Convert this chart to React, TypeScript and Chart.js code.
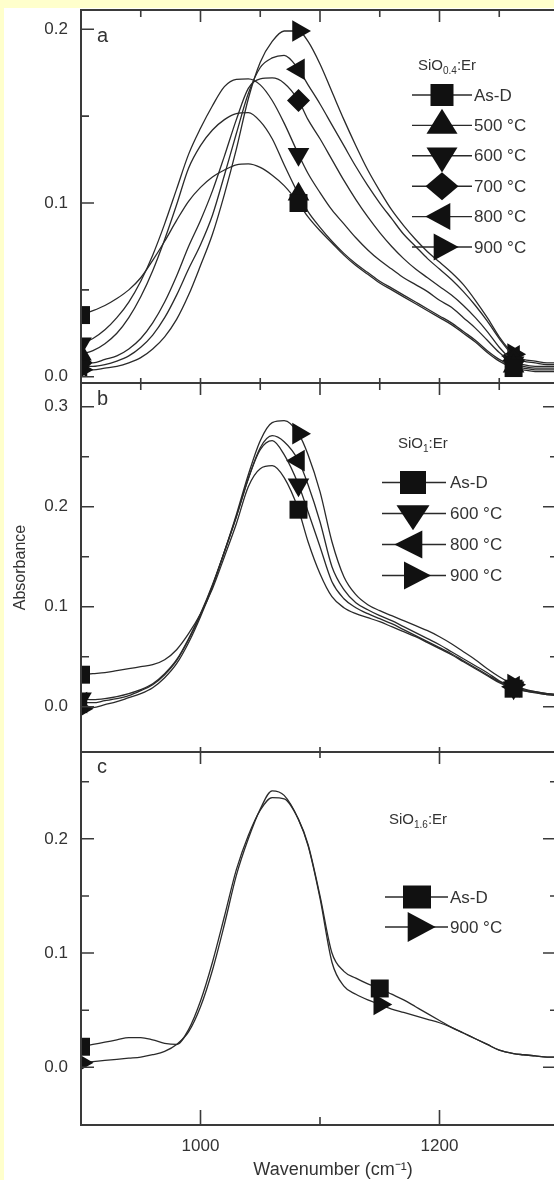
import React, { useEffect, useRef } from 'react';
import { Chart, registerables } from 'chart.js';

Chart.register(...registerables);

// ---------------- data ----------------
const WAVENUMBER = [900, 910, 920, 930, 940, 950, 960, 970, 980, 990, 1000, 1010, 1020, 1030, 1040, 1050, 1060, 1070, 1082, 1090, 1100, 1110, 1120, 1130, 1140, 1150, 1160, 1170, 1180, 1190, 1200, 1210, 1220, 1230, 1240, 1250, 1262, 1270, 1280, 1290, 1300];

// panel a : SiO0.4:Er
const A_AS_D = [0.0355, 0.038, 0.041, 0.045, 0.050, 0.057, 0.067, 0.078, 0.090, 0.101, 0.109, 0.115, 0.119, 0.122, 0.1225, 0.1205, 0.116, 0.110, 0.100, 0.092, 0.084, 0.077, 0.070, 0.064, 0.059, 0.054, 0.050, 0.046, 0.042, 0.038, 0.034, 0.030, 0.025, 0.020, 0.014, 0.009, 0.005, 0.004, 0.003, 0.003, 0.003];
const A_500 = [0.013, 0.015, 0.019, 0.025, 0.034, 0.046, 0.061, 0.079, 0.099, 0.120, 0.133, 0.142, 0.148, 0.1515, 0.152, 0.147, 0.137, 0.122, 0.105, 0.095, 0.086, 0.078, 0.071, 0.065, 0.060, 0.055, 0.051, 0.047, 0.043, 0.039, 0.035, 0.031, 0.026, 0.021, 0.015, 0.010, 0.006, 0.005, 0.004, 0.004, 0.004];
const A_600 = [0.019, 0.022, 0.027, 0.034, 0.043, 0.055, 0.070, 0.088, 0.108, 0.128, 0.143, 0.156, 0.167, 0.1712, 0.1715, 0.168, 0.159, 0.146, 0.128, 0.117, 0.106, 0.096, 0.088, 0.080, 0.073, 0.067, 0.062, 0.057, 0.053, 0.049, 0.044, 0.040, 0.034, 0.028, 0.021, 0.014, 0.008, 0.006, 0.005, 0.005, 0.005];
const A_700 = [0.008, 0.008, 0.010, 0.012, 0.016, 0.022, 0.031, 0.043, 0.058, 0.075, 0.090, 0.107, 0.127, 0.148, 0.166, 0.1715, 0.172, 0.169, 0.159, 0.148, 0.137, 0.125, 0.113, 0.102, 0.092, 0.083, 0.075, 0.068, 0.062, 0.057, 0.052, 0.047, 0.041, 0.034, 0.026, 0.017, 0.009, 0.007, 0.006, 0.006, 0.006];
const A_800 = [0.006, 0.006, 0.007, 0.009, 0.012, 0.017, 0.024, 0.034, 0.047, 0.062, 0.076, 0.093, 0.116, 0.140, 0.163, 0.178, 0.1835, 0.185, 0.177, 0.168, 0.157, 0.145, 0.133, 0.121, 0.110, 0.100, 0.091, 0.082, 0.075, 0.068, 0.062, 0.056, 0.049, 0.041, 0.032, 0.022, 0.012, 0.009, 0.008, 0.007, 0.007];
const A_900 = [0.004, 0.004, 0.005, 0.006, 0.008, 0.011, 0.016, 0.023, 0.033, 0.047, 0.064, 0.082, 0.105, 0.131, 0.160, 0.181, 0.193, 0.199, 0.199, 0.193, 0.180, 0.164, 0.148, 0.133, 0.119, 0.107, 0.096, 0.087, 0.079, 0.072, 0.066, 0.060, 0.053, 0.044, 0.034, 0.023, 0.013, 0.010, 0.009, 0.008, 0.008];

// panel b : SiO1:Er
const B_AS_D = [0.032, 0.033, 0.034, 0.036, 0.038, 0.040, 0.042, 0.047, 0.057, 0.073, 0.093, 0.118, 0.150, 0.183, 0.220, 0.238, 0.241, 0.229, 0.197, 0.165, 0.133, 0.110, 0.099, 0.093, 0.089, 0.085, 0.080, 0.075, 0.070, 0.064, 0.058, 0.052, 0.045, 0.038, 0.031, 0.024, 0.018, 0.016, 0.014, 0.012, 0.011];
const B_600 = [0.008, 0.007, 0.008, 0.010, 0.013, 0.017, 0.023, 0.033, 0.047, 0.068, 0.093, 0.122, 0.155, 0.190, 0.228, 0.257, 0.266, 0.252, 0.222, 0.195, 0.160, 0.125, 0.108, 0.099, 0.093, 0.088, 0.083, 0.077, 0.071, 0.065, 0.059, 0.053, 0.046, 0.039, 0.032, 0.025, 0.019, 0.016, 0.014, 0.012, 0.011];
const B_800 = [0.004, 0.004, 0.006, 0.008, 0.011, 0.016, 0.022, 0.032, 0.046, 0.067, 0.092, 0.121, 0.155, 0.190, 0.228, 0.259, 0.271, 0.265, 0.246, 0.222, 0.185, 0.140, 0.117, 0.104, 0.097, 0.091, 0.086, 0.080, 0.074, 0.068, 0.062, 0.055, 0.048, 0.041, 0.034, 0.026, 0.020, 0.017, 0.015, 0.013, 0.012];
const B_900 = [-0.002, -0.001, 0.002, 0.005, 0.009, 0.013, 0.019, 0.029, 0.043, 0.064, 0.090, 0.120, 0.155, 0.192, 0.232, 0.266, 0.284, 0.286, 0.273, 0.252, 0.215, 0.165, 0.130, 0.112, 0.102, 0.096, 0.091, 0.086, 0.081, 0.076, 0.070, 0.063, 0.055, 0.047, 0.038, 0.030, 0.022, 0.018, 0.015, 0.013, 0.012];

// panel c : SiO1.6:Er
const C_AS_D = [0.018, 0.020, 0.022, 0.024, 0.026, 0.026, 0.024, 0.021, 0.020, 0.033, 0.058, 0.092, 0.132, 0.173, 0.203, 0.225, 0.236, 0.235, 0.217, 0.195, 0.150, 0.100, 0.084, 0.078, 0.073, 0.069, 0.064, 0.059, 0.053, 0.047, 0.041, 0.035, 0.030, 0.025, 0.020, 0.015, 0.012, 0.011, 0.010, 0.009, 0.009];
const C_900 = [0.004, 0.005, 0.006, 0.007, 0.008, 0.009, 0.011, 0.014, 0.020, 0.031, 0.053, 0.085, 0.125, 0.168, 0.200, 0.226, 0.242, 0.238, 0.217, 0.194, 0.148, 0.092, 0.071, 0.064, 0.059, 0.055, 0.051, 0.048, 0.045, 0.042, 0.039, 0.035, 0.030, 0.025, 0.020, 0.015, 0.012, 0.011, 0.010, 0.009, 0.009];

const A_LABELS = ['As-D', '500 °C', '600 °C', '700 °C', '800 °C', '900 °C'];
const B_LABELS = ['As-D', '600 °C', '800 °C', '900 °C'];
const C_LABELS = ['As-D', '900 °C'];
const A_TITLE = ['SiO', '0.4', ':Er'];
const B_TITLE = ['SiO', '1', ':Er'];
const C_TITLE = ['SiO', '1.6', ':Er'];
const A_MARKERS = ['square', 'up', 'down', 'diamond', 'left', 'right'];
const B_MARKERS = ['square', 'down', 'left', 'right'];
const C_MARKERS = ['square', 'right'];
const A_MARKER_AT = [900, 1082, 1262];
const B_MARKER_AT = [900, 1082, 1262];
const C_MARKER_AT = [900, 1150];

const A_Y_TICKS = [0, 0.1, 0.2];
const B_Y_TICKS = [0, 0.1, 0.2, 0.3];
const C_Y_TICKS = [0, 0.1, 0.2];
const A_Y_MINOR = [0.05, 0.15];
const B_Y_MINOR = [0.05, 0.15, 0.25];
const C_Y_MINOR = [0.05, 0.15, 0.25];
const X_MAJOR = [1000, 1100, 1200];
const X_MINOR = [950, 1050, 1150, 1250];
const X_ALL = [950, 1000, 1050, 1100, 1150, 1200, 1250];
const X_TICK_LABELS = [1000, 1200];
const X_MIN = 900;
const X_MAX = 1300;
const Y_TITLE = 'Absorbance';
const X_TITLE = 'Wavenumber (cm⁻¹)';

// ---------------- styles ----------------
const FONT = "'Liberation Sans', Arial, Helvetica, sans-serif";
const TEXT = '#333';
const LINE = '#2a2a2a';
const MARK = '#111';
const FRAME = '#3a3a3a';
const CANVAS_W = 562;

const POINT: Record<string, { style: string; rot: number; r: number }> = {
  square: { style: 'rect', rot: 0, r: 12.7 },
  up: { style: 'triangle', rot: 0, r: 12.5 },
  down: { style: 'triangle', rot: 180, r: 12.5 },
  left: { style: 'triangle', rot: 270, r: 12.5 },
  right: { style: 'triangle', rot: 90, r: 12.5 },
  diamond: { style: 'rectRot', rot: 0, r: 11.5 },
};

function drawShape(ctx: CanvasRenderingContext2D, kind: string, x: number, y: number, w: number, h: number) {
  ctx.beginPath();
  if (kind === 'square') {
    ctx.rect(x - w / 2, y - h / 2, w, h);
  } else if (kind === 'up') {
    ctx.moveTo(x, y - (2 * h) / 3);
    ctx.lineTo(x + w / 2, y + h / 3);
    ctx.lineTo(x - w / 2, y + h / 3);
  } else if (kind === 'down') {
    ctx.moveTo(x, y + (2 * h) / 3);
    ctx.lineTo(x + w / 2, y - h / 3);
    ctx.lineTo(x - w / 2, y - h / 3);
  } else if (kind === 'right') {
    ctx.moveTo(x + (2 * w) / 3, y);
    ctx.lineTo(x - w / 3, y - h / 2);
    ctx.lineTo(x - w / 3, y + h / 2);
  } else if (kind === 'left') {
    ctx.moveTo(x - (2 * w) / 3, y);
    ctx.lineTo(x + w / 3, y - h / 2);
    ctx.lineTo(x + w / 3, y + h / 2);
  } else if (kind === 'diamond') {
    ctx.moveTo(x, y - h / 2);
    ctx.lineTo(x + w / 2, y);
    ctx.lineTo(x, y + h / 2);
    ctx.lineTo(x - w / 2, y);
  }
  ctx.closePath();
  ctx.fill();
}

type Panel = {
  series: number[][];
  labels: string[];
  markers: string[];
  markerAt: number[];
  title: string[];
  letter: string;
  yTicks: number[];
  yMinor: number[];
  yMin: number;
  yMax: number;
  canvasTop: number;
  canvasHeight: number;
  pad: { top: number; bottom: number };
  showX: boolean;
  showYTitle: boolean;
  deco: any;
};

const PANELS: Panel[] = [
  {
    series: [A_AS_D, A_500, A_600, A_700, A_800, A_900],
    labels: A_LABELS, markers: A_MARKERS, markerAt: A_MARKER_AT, title: A_TITLE, letter: 'a',
    yTicks: A_Y_TICKS, yMinor: A_Y_MINOR, yMin: -0.0036, yMax: 0.2111,
    canvasTop: 0, canvasHeight: 392, pad: { top: 10, bottom: 9 }, showX: false, showYTitle: false,
    deco: {
      letterPos: [97, 42],
      top: [[X_MAJOR, 12], [X_MINOR, 7]],
      bottom: [[X_ALL, 5]],
      right: false,
      legend: {
        titleX: 418, titleY: 70, rowY0: 95, rowDY: 30.4, line: [412, 472], markerX: 442, textX: 474,
        sizes: { square: [23, 22], up: [31, 25], down: [31, 25], diamond: [33, 28], left: [25, 27], right: [25, 27] },
      },
    },
  },
  {
    series: [B_AS_D, B_600, B_800, B_900],
    labels: B_LABELS, markers: B_MARKERS, markerAt: B_MARKER_AT, title: B_TITLE, letter: 'b',
    yTicks: B_Y_TICKS, yMinor: B_Y_MINOR, yMin: -0.0453, yMax: 0.3237,
    canvasTop: 376, canvasHeight: 384, pad: { top: 7, bottom: 8 }, showX: false, showYTitle: true,
    deco: {
      letterPos: [97, 405],
      top: [[X_MAJOR, 12], [X_MINOR, 7]],
      bottom: [[X_MAJOR, 5]],
      right: true,
      legend: {
        titleX: 398, titleY: 448, rowY0: 482.5, rowDY: 31, line: [382, 446], markerX: 413, textX: 450,
        sizes: { square: [26, 23], down: [33, 25], left: [28, 28], right: [27, 28] },
      },
    },
  },
  {
    series: [C_AS_D, C_900],
    labels: C_LABELS, markers: C_MARKERS, markerAt: C_MARKER_AT, title: C_TITLE, letter: 'c',
    yTicks: C_Y_TICKS, yMinor: C_Y_MINOR, yMin: -0.0505, yMax: 0.276,
    canvasTop: 745, canvasHeight: 435, pad: { top: 7, bottom: 0 }, showX: true, showYTitle: false,
    deco: {
      letterPos: [97, 773],
      top: [[X_TICK_LABELS, 12], [[1100], 6]],
      bottom: [[X_TICK_LABELS, 15], [[1100], 8]],
      right: true,
      xTitle: { x: 333, y: 1170 },
      legend: {
        titleX: 389, titleY: 824, rowY0: 897, rowDY: 30, line: [385, 448], markerX: 417, textX: 450,
        sizes: { square: [28, 23], right: [28, 30] },
      },
    },
  },
];

const decoPlugin = {
  id: 'panelDeco',
  afterDatasetsDraw(chart: any, _args: any, opts: any) {
    const { ctx, chartArea } = chart;
    const { left, right, top, bottom } = chartArea;
    const xs = chart.scales.x;
    const ys = chart.scales.y;
    const p: Panel = opts.panel;
    const d = p.deco;
    const off = p.canvasTop;
    ctx.save();
    // frame
    ctx.strokeStyle = FRAME;
    ctx.lineWidth = 2;
    ctx.beginPath();
    ctx.moveTo(left, top);
    ctx.lineTo(right, top);
    ctx.lineTo(right, bottom);
    ctx.lineTo(left, bottom);
    ctx.closePath();
    ctx.stroke();
    // ticks
    ctx.lineWidth = 1.6;
    ctx.beginPath();
    for (const [vals, len] of d.top) {
      for (const v of vals) {
        const x = xs.getPixelForValue(v);
        ctx.moveTo(x, top);
        ctx.lineTo(x, top + len);
      }
    }
    for (const [vals, len] of d.bottom) {
      for (const v of vals) {
        const x = xs.getPixelForValue(v);
        ctx.moveTo(x, bottom);
        ctx.lineTo(x, bottom - len);
      }
    }
    for (const v of p.yTicks) {
      const y = ys.getPixelForValue(v);
      ctx.moveTo(left, y);
      ctx.lineTo(left + 13, y);
      if (d.right) {
        ctx.moveTo(right, y);
        ctx.lineTo(right - 16, y);
      }
    }
    for (const v of p.yMinor) {
      const y = ys.getPixelForValue(v);
      ctx.moveTo(left, y);
      ctx.lineTo(left + 8, y);
      if (d.right) {
        ctx.moveTo(right, y);
        ctx.lineTo(right - 9, y);
      }
    }
    ctx.stroke();

    ctx.fillStyle = TEXT;
    ctx.textAlign = 'left';
    ctx.textBaseline = 'alphabetic';

    // panel letter
    ctx.font = `20px ${FONT}`;
    ctx.fillText(p.letter, d.letterPos[0], d.letterPos[1] - off);

    // x axis title
    if (d.xTitle) {
      ctx.font = `18px ${FONT}`;
      ctx.textAlign = 'center';
      ctx.textBaseline = 'middle';
      ctx.fillText(X_TITLE, d.xTitle.x, d.xTitle.y - off);
      ctx.textAlign = 'left';
      ctx.textBaseline = 'alphabetic';
    }

    // legend
    const lg = d.legend;
    let tx = lg.titleX;
    const ty = lg.titleY - off;
    ctx.font = `15px ${FONT}`;
    ctx.fillText(p.title[0], tx, ty);
    tx += ctx.measureText(p.title[0]).width;
    ctx.font = `10px ${FONT}`;
    ctx.fillText(p.title[1], tx, ty + 4);
    tx += ctx.measureText(p.title[1]).width;
    ctx.font = `15px ${FONT}`;
    ctx.fillText(p.title[2], tx, ty);

    p.labels.forEach((label, i) => {
      const y = lg.rowY0 + i * lg.rowDY - off;
      ctx.strokeStyle = LINE;
      ctx.lineWidth = 1.4;
      ctx.beginPath();
      ctx.moveTo(lg.line[0], y);
      ctx.lineTo(lg.line[1], y);
      ctx.stroke();
      const kind = p.markers[i];
      const [w, h] = lg.sizes[kind];
      ctx.fillStyle = MARK;
      drawShape(ctx, kind, lg.markerX, y, w, h);
      ctx.fillStyle = TEXT;
      ctx.font = `17px ${FONT}`;
      ctx.textBaseline = 'middle';
      ctx.fillText(label, lg.textX, y + 1);
      ctx.textBaseline = 'alphabetic';
    });
    ctx.restore();
  },
};

function buildConfig(p: Panel): any {
  return {
    type: 'line',
    data: {
      datasets: p.series.map((vals, si) => {
        const pt = POINT[p.markers[si]];
        return {
          label: p.labels[si],
          data: WAVENUMBER.map((x, i) => ({ x, y: vals[i] })),
          borderColor: LINE,
          borderWidth: 1.3,
          fill: false,
          cubicInterpolationMode: 'monotone',
          pointStyle: pt.style,
          pointRotation: pt.rot,
          pointRadius: (c: any) => (c.raw && p.markerAt.includes(c.raw.x) ? pt.r : 0),
          pointBackgroundColor: MARK,
          pointBorderColor: MARK,
          pointBorderWidth: 0,
          clip: 0,
        };
      }),
    },
    options: {
      animation: false,
      responsive: false,
      events: [],
      layout: {
        autoPadding: false,
        padding: { left: 0, right: CANVAS_W - 559, top: p.pad.top, bottom: p.pad.bottom },
      },
      plugins: {
        legend: { display: false },
        tooltip: { enabled: false },
        panelDeco: { panel: p },
      },
      scales: {
        x: {
          type: 'linear',
          min: X_MIN,
          max: X_MAX,
          position: 'bottom',
          display: p.showX,
          afterBuildTicks: (s: any) => {
            s.ticks = X_TICK_LABELS.map((v) => ({ value: v }));
          },
          afterFit: (s: any) => {
            s.height = p.showX ? 55 : 0;
            s.paddingLeft = 0;
            s.paddingRight = 0;
          },
          grid: { display: false, drawTicks: false },
          border: { display: false },
          ticks: {
            padding: 11,
            maxRotation: 0,
            autoSkip: false,
            color: TEXT,
            font: { family: FONT, size: 17 },
            callback: (v: any) => String(v),
          },
          title: { display: false },
        },
        y: {
          type: 'linear',
          min: p.yMin,
          max: p.yMax,
          position: 'left',
          afterBuildTicks: (s: any) => {
            s.ticks = p.yTicks.map((v) => ({ value: v }));
          },
          afterFit: (s: any) => {
            s.width = 81;
            s.paddingTop = 0;
            s.paddingBottom = 0;
          },
          grid: { display: false, drawTicks: false },
          border: { display: false },
          ticks: {
            padding: 13,
            color: TEXT,
            font: { family: FONT, size: 17 },
            callback: (v: any) => Number(v).toFixed(1),
          },
          title: {
            display: p.showYTitle,
            text: Y_TITLE,
            color: TEXT,
            font: { family: FONT, size: 16 },
            padding: { top: 11, bottom: 0 },
          },
        },
      },
    },
    plugins: [decoPlugin],
  };
}

function PanelChart({ panel }: { panel: Panel }) {
  const ref = useRef<HTMLCanvasElement>(null);
  useEffect(() => {
    const chart = new Chart(ref.current as HTMLCanvasElement, buildConfig(panel));
    return () => chart.destroy();
  }, [panel]);
  return (
    <canvas
      ref={ref}
      width={CANVAS_W}
      height={panel.canvasHeight}
      style={{ position: 'absolute', left: 0, top: panel.canvasTop, width: CANVAS_W, height: panel.canvasHeight }}
    />
  );
}

export default function App() {
  return (
    <div
      style={{
        position: 'absolute',
        left: 0,
        top: 0,
        width: 554,
        height: 1180,
        overflow: 'hidden',
        background: '#ffffcc',
      }}
    >
      <div style={{ position: 'absolute', left: 4, top: 8, right: 0, bottom: 0, background: '#ffffff' }} />
      {PANELS.map((p, i) => (
        <PanelChart key={i} panel={p} />
      ))}
    </div>
  );
}
